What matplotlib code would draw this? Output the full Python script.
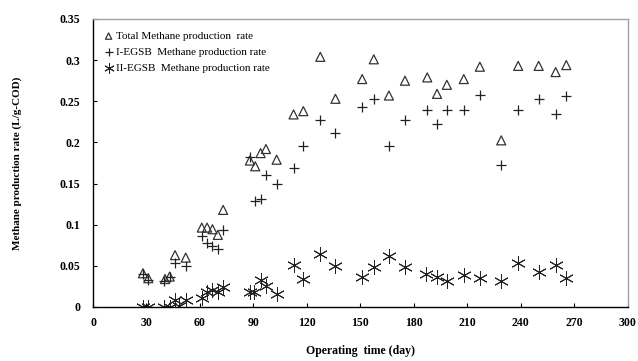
import matplotlib
matplotlib.use("Agg")
import matplotlib.pyplot as plt

# Total methane production rate (triangles)
total_day = [28, 31, 40.4, 43, 46, 52, 61, 64, 67, 70, 73, 88, 91, 94, 97, 103,
             112.5, 118, 127.5, 136, 151, 157.5, 166, 175, 187.5, 193, 198.5,
             208, 217, 229, 238.5, 250, 259.5, 265.5]
total_val = [0.041, 0.035, 0.034, 0.037, 0.063, 0.060, 0.0965, 0.0965, 0.0945,
             0.0876, 0.118, 0.178, 0.171, 0.187, 0.192, 0.179, 0.234, 0.238,
             0.304, 0.253, 0.277, 0.301, 0.257, 0.275, 0.279, 0.259, 0.270,
             0.277, 0.292, 0.2025, 0.293, 0.293, 0.2855, 0.294]

# I-EGSB (plus)
r1_day = [28, 31, 40, 43, 46, 52, 61, 64, 67, 70, 73, 88, 91, 94, 97, 103,
          112.5, 118, 127.5, 136, 151, 157.5, 166, 175, 187.5, 193, 198.5,
          208, 217, 229, 238.5, 250, 259.5, 265.5]
r1_val = [0.040, 0.033, 0.032, 0.036, 0.054, 0.050, 0.0857, 0.078, 0.074,
          0.070, 0.0937, 0.182, 0.129, 0.1314, 0.160, 0.1496, 0.1687, 0.196,
          0.2267, 0.211, 0.243, 0.253, 0.196, 0.2267, 0.2397, 0.222, 0.2397,
          0.2397, 0.258, 0.172, 0.2397, 0.253, 0.235, 0.257]

# II-EGSB (asterisk)
r2_day = [28, 31, 40, 43, 46, 48.5, 52, 61, 64, 67, 70, 73, 88, 90.5, 94, 97,
          103, 112.5, 118, 127.5, 136, 151, 157.5, 166, 175, 187, 193, 198.5,
          208, 217, 229, 238.5, 250, 259.5, 265.5]
r2_val = [0.0, 0.0, 0.0, 0.0, 0.0085, 0.001, 0.0085, 0.0106, 0.0187, 0.0207,
          0.0187, 0.024, 0.0187, 0.0187, 0.0328, 0.0255, 0.0158, 0.051, 0.034,
          0.065, 0.050, 0.036, 0.049, 0.062, 0.049, 0.040, 0.036, 0.031,
          0.039, 0.035, 0.032, 0.054, 0.042, 0.051, 0.0357]

x_ticks = [0, 30, 60, 90, 120, 150, 180, 210, 240, 270, 300]
y_ticks = [0, 0.05, 0.1, 0.15, 0.2, 0.25, 0.3, 0.35]
y_labels = ['0', '0.05', '0.1', '0.15', '0.2', '0.25', '0.3', '0.35']

plt.rcParams['font.family'] = ['Liberation Serif', 'DejaVu Serif']

fig = plt.figure(figsize=(6.38, 3.61), dpi=100)
ax = fig.add_axes([0.1458, 0.1496, 0.8382, 0.7978])

ax.scatter(total_day, total_val, marker='^', s=42, facecolors='none',
           edgecolors='#333333', linewidths=0.9,
           label='Total Methane production  rate')
ax.scatter(r1_day, r1_val, marker='+', s=60, color='#222222', linewidths=0.9,
           label='I-EGSB  Methane production rate')
ax.scatter(r2_day, r2_val, marker=(6, 2, 0), s=100, color='#222222',
           linewidths=0.7, label='II-EGSB  Methane production rate')

ax.set_xlim(0, 300)
ax.set_ylim(0, 0.35)
ax.set_xticks(x_ticks)
ax.set_yticks(y_ticks)
ax.set_yticklabels(y_labels)
ax.tick_params(direction='in', length=3, width=0.8, labelsize=8.5)
ax.tick_params(axis='y', pad=9)
ax.tick_params(axis='x', pad=7)
for lab in ax.get_xticklabels() + ax.get_yticklabels():
    lab.set_fontweight('bold')

for side in ['left', 'bottom']:
    ax.spines[side].set_color('black')
    ax.spines[side].set_linewidth(1.0)
for side in ['top', 'right']:
    ax.spines[side].set_color('#a0a0a0')
    ax.spines[side].set_linewidth(1.0)

ax.set_xlabel('Operating  time (day)', fontsize=8.5, fontweight='bold',
              labelpad=12)
ax.set_ylabel('Methane production rate (L/g-COD)', fontsize=8,
              fontweight='bold', labelpad=27)

leg = ax.legend(loc='upper left', frameon=False, fontsize=8,
                handlelength=0.6, handletextpad=0.4, labelspacing=0.55,
                borderaxespad=0.7, markerscale=0.7)

fig.savefig('out.png', dpi=100)
